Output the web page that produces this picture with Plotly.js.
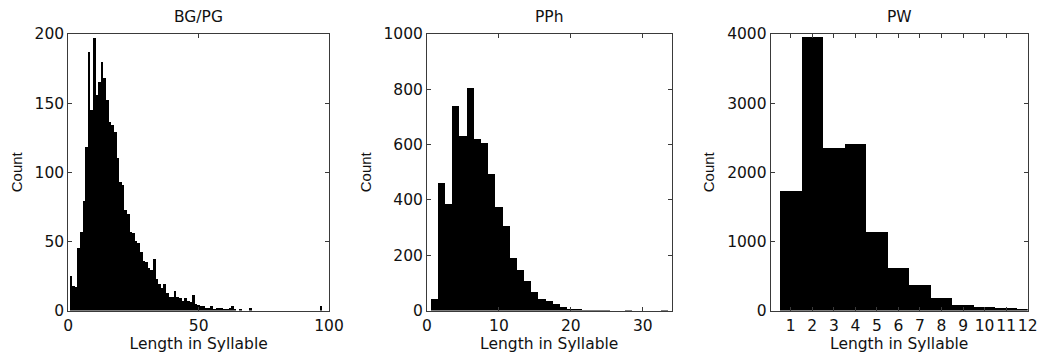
<!DOCTYPE html>
<html>
<head>
<meta charset="utf-8">
<script src="https://cdn.plot.ly/plotly-3.0.1.min.js"></script>
<style>html,body{margin:0;padding:0;background:#fff;}#chart{width:1038px;height:358px;}</style>
</head>
<body>
<div id="chart"></div>
<script>
// ---- Data ----
const panelTitles = ["BG/PG", "PPh", "PW"];
const xAxisTitle = "Length in Syllable";
const yAxisTitle = "Count";

// BG/PG: counts per length 1..98
const bgLengths = Array.from({length: 98}, (_, i) => i + 1);
const bgCounts = [
  25, 18, 17, 45, 57, 79, 118, 187, 145, 197,
  156, 165, 180, 168, 152, 136, 134, 129, 110, 93,
  91, 73, 70, 57, 56, 50, 49, 42, 36, 35,
  31, 29, 37, 23, 19, 16, 19, 13, 10, 10,
  14, 10, 9, 7, 9, 7, 6, 11, 5, 4,
  3, 3, 2, 2, 3, 1, 2, 2, 2, 1,
  1, 2, 3, 1, 0, 1, 0, 0, 0, 2,
  0, 0, 0, 0, 0, 0, 0, 0, 0, 0,
  0, 0, 0, 0, 0, 0, 0, 0, 0, 0,
  0, 0, 0, 0, 0, 0, 3, 0
];

// PPh: counts per length 1..33
const pphLengths = Array.from({length: 33}, (_, i) => i + 1);
const pphCounts = [
  40, 461, 385, 738, 630, 806, 621, 605, 494, 376,
  304, 189, 146, 107, 66, 40, 34, 22, 12, 7,
  4, 3, 2, 2, 1, 0, 0, 3, 0, 0,
  0, 0, 3
];

// PW: counts per length 1..12
const pwLengths = [1, 2, 3, 4, 5, 6, 7, 8, 9, 10, 11, 12];
const pwCounts = [1731, 3951, 2351, 2414, 1139, 620, 373, 184, 73, 48, 34, 15];

// tick values
const bgXTicks = [0, 50, 100];
const bgYTicks = [0, 50, 100, 150, 200];
const pphXTicks = [0, 10, 20, 30];
const pphYTicks = [0, 200, 400, 600, 800, 1000];
const pwXTicks = pwLengths;
const pwYTicks = [0, 1000, 2000, 3000, 4000];

// ---- Layout ----
const W = 1038, H = 358;
const fx = (a, b) => [a / W, b / W];
const fy = (top, bottom) => [(H - bottom) / H, (H - top) / H];

const FONT = "DejaVu Sans";
const lineCol = "#3a3a3a";

function xAx(domain, range, ticks, anchor) {
  return {
    domain: domain, range: range, anchor: anchor,
    tickmode: "array", tickvals: ticks, ticktext: ticks.map(String),
    showline: true, mirror: "allticks", linecolor: lineCol, linewidth: 1,
    ticks: "inside", ticklen: 4, tickcolor: lineCol, tickwidth: 1,
    showgrid: false, zeroline: false, tickangle: 0,
    ticklabelstandoff: 1,
    tickfont: {family: FONT, size: 15.5, color: "#111"},
    title: {text: xAxisTitle, font: {family: FONT, size: 15.5, color: "#111"}, standoff: 2}
  };
}
function yAx(domain, range, ticks, anchor) {
  return {
    domain: domain, range: range, anchor: anchor,
    tickmode: "array", tickvals: ticks, ticktext: ticks.map(String),
    showline: true, mirror: "allticks", linecolor: lineCol, linewidth: 1,
    ticks: "inside", ticklen: 4, tickcolor: lineCol, tickwidth: 1,
    showgrid: false, zeroline: false,
    tickfont: {family: FONT, size: 15.5, color: "#111"},
    title: {text: yAxisTitle, font: {family: "Liberation Sans", size: 15, color: "#111"}, standoff: 8}
  };
}

const yDom = fy(34, 310.5);
const bar = (x, y, xa, ya) => ({
  type: "bar", x: x, y: y, xaxis: xa, yaxis: ya, width: 1,
  marker: {color: "#000", line: {width: 0}}, hoverinfo: "x+y", showlegend: false
});

const data = [
  bar(bgLengths, bgCounts, "x", "y"),
  bar(pphLengths, pphCounts, "x2", "y2"),
  bar(pwLengths, pwCounts, "x3", "y3")
];

const doms = [fx(68.3, 329), fx(427, 671.5), fx(770.7, 1027.7)];

const layout = {
  width: W, height: H,
  margin: {l: 0, r: 0, t: 0, b: 0},
  paper_bgcolor: "#fff", plot_bgcolor: "#fff",
  bargap: 0, showlegend: false,
  xaxis: xAx(doms[0], [0, 100], bgXTicks, "y"),
  yaxis: yAx(yDom, [0, 200], bgYTicks, "x"),
  xaxis2: xAx(doms[1], [0, 34], pphXTicks, "y2"),
  yaxis2: yAx(yDom, [0, 1000], pphYTicks, "x2"),
  xaxis3: xAx(doms[2], [0.07, 12], pwXTicks, "y3"),
  yaxis3: yAx(yDom, [0, 4000], pwYTicks, "x3"),
  annotations: panelTitles.map((t, i) => ({
    text: t, xref: "paper", yref: "paper",
    x: (doms[i][0] + doms[i][1]) / 2, y: (H - 17) / H,
    xanchor: "center", yanchor: "middle", showarrow: false,
    font: {family: FONT, size: 15.5, color: "#111"}
  }))
};

Plotly.newPlot("chart", data, layout, {staticPlot: true, displayModeBar: false});
</script>
</body>
</html>
